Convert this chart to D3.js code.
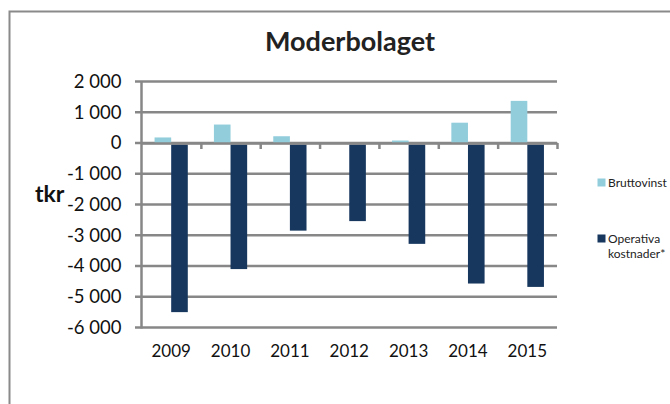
<!DOCTYPE html>
<html>
<head>
<meta charset="utf-8">
<script src="https://cdn.jsdelivr.net/npm/d3@7"></script>
<style>
body { margin: 0; background: #fff; }
svg { display: block; font-family: Lato, "Open Sans", sans-serif; }
</style>
</head>
<body>
<div id="chart"></div>
<script>
var years = ["2009", "2010", "2011", "2012", "2013", "2014", "2015"];
var bruttovinst = [180, 600, 220, 0, 80, 660, 1370];
var operativa = [-5500, -4100, -2850, -2540, -3280, -4570, -4680];
var seriesNames = ["Bruttovinst", "Operativa kostnader*"];
var seriesColors = ["#92cddc", "#17375e"];
var yTicks = [2000, 1000, 0, -1000, -2000, -3000, -4000, -5000, -6000];

function init ()
{
    var w = 670;
    var h = 404;
    var left = 141.5, right = 557, top = 81.5, bottom = 327.5;
    var grid = "#878787";

    // swedish style thousands: "2 000"
    var locale = d3.formatLocale({decimal: ",", thousands: " ", grouping: [3], currency: ["", " kr"], minus: "-"});
    var fmt = locale.format(",d");

    var svg = d3.select("#chart")
        .append("svg")
        .attr("width", w)
        .attr("height", h);

    svg.append("rect")
        .attr("width", w).attr("height", h)
        .attr("fill", "#fff");

    // outer frame, runs off the right and bottom edge
    svg.append("rect")
        .attr("x", 9.5).attr("y", 11.5)
        .attr("width", 700).attr("height", 430)
        .attr("fill", "none")
        .attr("stroke", "#8a8a8a")
        .attr("stroke-width", 2);

    var x = d3.scaleBand()
        .domain(years)
        .range([left, right])
        .paddingInner(0.44)
        .paddingOuter(0.22);

    var xs = d3.scaleBand()
        .domain([0, 1])
        .range([0, x.bandwidth()]);

    var y = d3.scaleLinear()
        .domain([-6000, 2000])
        .range([bottom, top]);

    // gridlines
    svg.append("g")
        .selectAll("line")
        .data(yTicks)
        .enter()
        .append("line")
        .attr("x1", left - 6.5)
        .attr("x2", right)
        .attr("y1", function (d) { return y(d); })
        .attr("y2", function (d) { return y(d); })
        .attr("stroke", grid)
        .attr("stroke-width", 2.5);

    // bars
    var series = [bruttovinst, operativa];
    series.forEach(function (vals, s) {
        svg.append("g")
            .selectAll("rect")
            .data(vals)
            .enter()
            .append("rect")
            .attr("x", function (d, i) { return x(years[i]) + xs(s); })
            .attr("width", xs.bandwidth())
            .attr("y", function (d) { return d >= 0 ? y(d) : y(0) + 1.5; })
            .attr("height", function (d) { return Math.max(0, d >= 0 ? y(0) - y(d) : y(d) - y(0) - 1.5); })
            .attr("fill", seriesColors[s]);
    });

    // y axis line
    svg.append("line")
        .attr("x1", left).attr("x2", left)
        .attr("y1", top).attr("y2", bottom + 1)
        .attr("stroke", grid)
        .attr("stroke-width", 2.5);

    // zero line with ticks between the years
    var cat = d3.scaleLinear().domain([0, years.length]).range([left, right]);
    var xAxis = svg.append("g")
        .attr("transform", "translate(0," + y(0) + ")")
        .call(d3.axisBottom(cat).tickValues(d3.range(1, years.length + 1)).tickSize(6).tickSizeOuter(0).tickFormat(""));
    xAxis.select(".domain").attr("stroke", grid).attr("stroke-width", 2.5);
    xAxis.selectAll(".tick line").attr("stroke", grid).attr("stroke-width", 2.5);

    // y tick labels
    var yAxis = svg.append("g")
        .attr("transform", "translate(" + left + ",0)")
        .call(d3.axisLeft(y).tickValues(yTicks).tickSize(0).tickPadding(20).tickFormat(fmt));
    yAxis.select(".domain").remove();
    yAxis.selectAll("text")
        .style("font-family", "Lato, sans-serif")
        .style("font-size", "18.5px")
        .attr("fill", "#111");

    // year labels
    var yearAxis = svg.append("g")
        .attr("transform", "translate(0," + 339 + ")")
        .call(d3.axisBottom(x).tickSize(0).tickPadding(6));
    yearAxis.select(".domain").remove();
    yearAxis.selectAll("text")
        .style("font-family", "Lato, sans-serif")
        .style("font-size", "17px")
        .attr("fill", "#111");

    // title
    svg.append("text")
        .attr("x", 350).attr("y", 51)
        .attr("text-anchor", "middle")
        .style("font-size", "27px")
        .style("font-weight", "bold")
        .attr("fill", "#222")
        .text("Moderbolaget");

    // unit label
    svg.append("text")
        .attr("x", 35).attr("y", 202)
        .style("font-size", "23px")
        .style("font-weight", "bold")
        .attr("fill", "#111")
        .text("tkr");

    // legend
    var legY = [178.5, 234.5];
    var legend = svg.append("g");
    legend.selectAll("rect")
        .data(seriesNames)
        .enter()
        .append("rect")
        .attr("x", 597.5)
        .attr("y", function (d, i) { return legY[i]; })
        .attr("width", 8).attr("height", 8)
        .attr("fill", function (d, i) { return seriesColors[i]; });

    legend.append("text")
        .attr("x", 608).attr("y", 186.5)
        .style("font-size", "12px")
        .attr("fill", "#222")
        .text("Bruttovinst");

    legend.append("text")
        .attr("x", 608).attr("y", 242.5)
        .style("font-size", "12px")
        .attr("fill", "#222")
        .selectAll("tspan")
        .data(["Operativa", "kostnader*"])
        .enter()
        .append("tspan")
        .attr("x", 608)
        .attr("dy", function (d, i) { return i ? 15 : 0; })
        .text(function (d) { return d; });
}

window.onload = init;
</script>
</body>
</html>
